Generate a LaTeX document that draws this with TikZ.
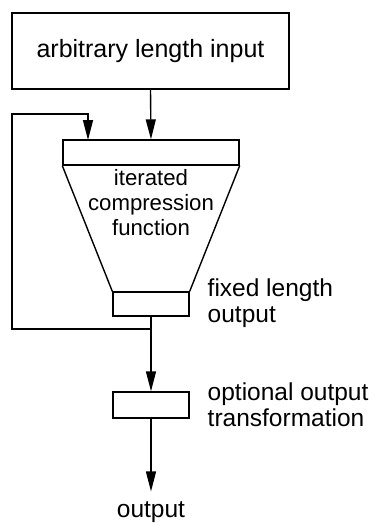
\documentclass[tikz,border=0pt]{standalone}
\usepackage{fontspec}
\setmainfont{Liberation Sans}
\usetikzlibrary{arrows.meta}
\begin{document}
\begin{tikzpicture}[x=1pt,y=-1pt,
  line width=1.4pt,
  box/.style={draw, inner sep=0pt, line width=1.4pt},
  lbl/.style={inner sep=0pt, align=left, font=\fontsize{24.5}{26}\selectfont},
  arr/.style={-{Triangle[length=20pt,width=10pt]}}]
\useasboundingbox (0,0) rectangle (375,523);
\fill[white] (0,0) rectangle (375,523);
% boxes
\node[box, minimum width=277pt, minimum height=76pt, font=\fontsize{25}{30}\selectfont] (in) at (150.5,51) {arbitrary length input};
\node[box, minimum width=176pt, minimum height=25pt] (bar) at (151,152.5) {};
\node[box, minimum width=76pt, minimum height=24pt] (fix) at (151,304) {};
\node[box, minimum width=76pt, minimum height=26pt] (opt) at (151,405) {};
% trapezoid sides
\draw (bar.south west) -- (fix.north west);
\draw (bar.south east) -- (fix.north east);
\node[inner sep=0pt, align=center, font=\fontsize{22.2}{25}\selectfont] (cf) at (151,203) {iterated\\compression\\function};
% labels
\node[lbl, anchor=west] (fixl) at (207,303) {fixed length\\output};
\node[lbl, anchor=west] (optl) at (207,405) {optional output\\transformation};
\node[inner sep=0pt, anchor=base, font=\fontsize{24.5}{26}\selectfont] (out) at (151,517) {output};
% connectors
\coordinate (split) at (151,329);
\coordinate (c1) at (12,329);
\coordinate (c2) at (12,114);
\coordinate (c3) at (88,114);
\coordinate (c4) at (88,140);
\draw[arr] (in.south) -- (bar.north);
\draw (fix.south) -- (split);
\draw[arr] (split) -- (c1) -- (c2) -- (c3) -- (c4);
\draw[arr] (split) -- (opt.north);
\draw[arr, shorten >=9pt] (opt.south) -- (out.north);
\end{tikzpicture}
\end{document}
